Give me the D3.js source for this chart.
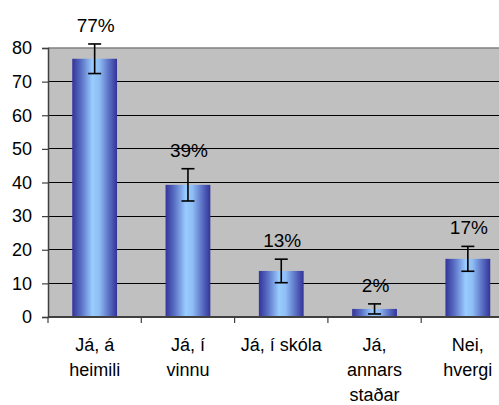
<!DOCTYPE html>
<html>
<head>
<meta charset="utf-8">
<script src="https://cdn.jsdelivr.net/npm/d3@7"></script>
<style>
  body { margin: 0; background: #fff; }
  svg text { font-family: "Liberation Sans", Arial, sans-serif; fill: #000; }
</style>
</head>
<body>
<div id="chart"></div>
<script>
// categories, wrapped the way the original chart wraps them
var categories = [["Já, á", "heimili"], ["Já, í", "vinnu"], ["Já, í skóla"], ["Já,", "annars", "staðar"], ["Nei,", "hvergi"]];
var values = [76.8, 39.3, 13.7, 2.4, 17.3];
var errors = [4.4, 4.8, 3.5, 1.5, 3.7];
var valueLabels = ["77%", "39%", "13%", "2%", "17%"];
var yTicks = [0, 10, 20, 30, 40, 50, 60, 70, 80];

var width = 499, height = 405;
// plot area runs past the right edge, like the cropped original
var plot = {left: 48, top: 48, right: 514.5, bottom: 317};

var svg = d3.select("#chart").append("svg")
    .attr("width", width)
    .attr("height", height);

var defs = svg.append("defs");
var grad = defs.append("linearGradient")
    .attr("id", "barGrad")
    .attr("x1", "0%").attr("x2", "100%")
    .attr("y1", "0%").attr("y2", "0%");
grad.append("stop").attr("offset", "0%").attr("stop-color", "#333399");
grad.append("stop").attr("offset", "20%").attr("stop-color", "#5a70c4");
grad.append("stop").attr("offset", "45%").attr("stop-color", "#99ccff");
grad.append("stop").attr("offset", "60%").attr("stop-color", "#8fbef5");
grad.append("stop").attr("offset", "82%").attr("stop-color", "#5a70c4");
grad.append("stop").attr("offset", "100%").attr("stop-color", "#333399");

var idx = d3.range(categories.length);

var x = d3.scaleBand()
    .domain(idx)
    .range([plot.left, plot.right])
    .paddingInner(0.52)
    .paddingOuter(0.26);

var y = d3.scaleLinear()
    .domain([0, 80])
    .range([plot.bottom, plot.top]);

// background
svg.append("rect")
    .attr("x", plot.left)
    .attr("y", plot.top)
    .attr("width", plot.right - plot.left)
    .attr("height", plot.bottom - plot.top)
    .attr("fill", "#c0c0c0");

// gridlines
svg.append("g").selectAll("line")
    .data(yTicks.filter(function (d) { return d > 0 && d < 80; }))
    .enter().append("line")
    .attr("x1", plot.left).attr("x2", plot.right)
    .attr("y1", function (d) { return y(d); })
    .attr("y2", function (d) { return y(d); })
    .attr("stroke", "#000")
    .attr("stroke-width", 1)
    .attr("shape-rendering", "crispEdges");

// top border
svg.append("line")
    .attr("x1", plot.left).attr("x2", plot.right)
    .attr("y1", y(80)).attr("y2", y(80))
    .attr("stroke", "#808080")
    .attr("stroke-width", 1.5);

// bars
svg.append("g").selectAll("rect")
    .data(idx)
    .enter().append("rect")
    .attr("x", function (i) { return x(i); })
    .attr("y", function (i) { return y(values[i]); })
    .attr("width", x.bandwidth())
    .attr("height", function (i) { return y(0) - y(values[i]); })
    .attr("fill", "url(#barGrad)");

// error bars
var capW = 13;
var err = svg.append("g").attr("stroke", "#000").attr("stroke-width", 1.6);
idx.forEach(function (i) {
    var cx = x(i) + x.bandwidth() / 2;
    var hi = y(values[i] + errors[i]);
    var lo = y(values[i] - errors[i]);
    err.append("line").attr("x1", cx).attr("x2", cx).attr("y1", hi).attr("y2", lo);
    err.append("line").attr("x1", cx - capW / 2).attr("x2", cx + capW / 2).attr("y1", hi).attr("y2", hi);
    err.append("line").attr("x1", cx - capW / 2).attr("x2", cx + capW / 2).attr("y1", lo).attr("y2", lo);
});

// value labels
svg.append("g").selectAll("text")
    .data(idx)
    .enter().append("text")
    .attr("x", function (i) { return x(i) + x.bandwidth() / 2 + 1; })
    .attr("y", function (i) { return y(values[i] + errors[i]) - 12; })
    .attr("text-anchor", "middle")
    .style("font-size", "19px")
    .text(function (i) { return valueLabels[i]; });

// y axis
var yAxis = svg.append("g")
    .attr("transform", "translate(" + plot.left + ",0)")
    .call(d3.axisLeft(y).tickValues(yTicks).tickSize(6).tickPadding(10));
yAxis.select(".domain").attr("stroke", "#404040").attr("stroke-width", 1.5);
yAxis.selectAll(".tick line").attr("stroke", "#404040").attr("stroke-width", 1.2);
yAxis.selectAll(".tick text")
    .style("font-size", "18px")
    .attr("font-family", null)
    .attr("fill", "#000");

// x axis line and ticks at band boundaries
var step = x.step();
var bounds = idx.map(function (i) { return x(i) + x.bandwidth() / 2 - step / 2; });
bounds.push(x(idx.length - 1) + x.bandwidth() / 2 + step / 2);

var xAxis = svg.append("g").attr("stroke", "#404040");
xAxis.append("line")
    .attr("x1", plot.left).attr("x2", plot.right)
    .attr("y1", y(0)).attr("y2", y(0))
    .attr("stroke-width", 2);
xAxis.selectAll(".xtick")
    .data(bounds)
    .enter().append("line")
    .attr("class", "xtick")
    .attr("x1", function (d) { return d; })
    .attr("x2", function (d) { return d; })
    .attr("y1", y(0)).attr("y2", y(0) + 6)
    .attr("stroke-width", 1.2);

// category labels
var catG = svg.append("g").selectAll("text")
    .data(idx)
    .enter().append("text")
    .attr("text-anchor", "middle")
    .style("font-size", "18px")
    .attr("transform", function (i) {
        return "translate(" + (x(i) + x.bandwidth() / 2) + "," + (y(0) + 34) + ")";
    });
catG.selectAll("tspan")
    .data(function (i) { return categories[i]; })
    .enter().append("tspan")
    .attr("x", 0)
    .attr("y", function (d, j) { return j * 25; })
    .text(function (d) { return d; });
</script>
</body>
</html>
